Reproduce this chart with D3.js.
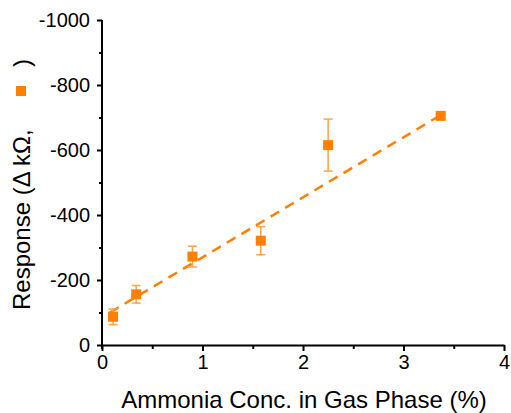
<!DOCTYPE html>
<html>
<head>
<meta charset="utf-8">
<script src="https://cdn.jsdelivr.net/npm/d3@7"></script>
<style>
  body { margin: 0; background: #fff; }
  svg text { font-family: "Liberation Sans", Arial, sans-serif; fill: #000; }
</style>
</head>
<body>
<div id="chart"></div>
<script>
// ammonia concentration (%) vs response (negative, in delta kOhm)
const conc = [0.11, 0.34, 0.90, 1.58, 2.25, 3.37];
const response = [-87, -156, -272, -321, -615, -705];
const respErr = [24, 27, 32, 43, 80, 0];
// dashed linear fit, read at its two ends
const fitX = [0.08, 3.33];
const fitY = [-100, -700];
const xTicks = [0, 1, 2, 3, 4];
const yTicks = [0, -200, -400, -600, -800, -1000];

function renderScatter() {
    const width = 511, height = 413;
    const orange = "#ff7f00";

    const svg = d3.select("#chart").append("svg")
        .attr("width", width)
        .attr("height", height);

    const x = d3.scaleLinear().domain([0, 4]).range([102, 504]);
    const y = d3.scaleLinear().domain([0, -1000]).range([345, 20]);

    // minor ticks first so major ones sit on top
    svg.append("g").attr("transform", "translate(0,345)")
        .call(d3.axisBottom(x).tickValues(d3.range(0.5, 4, 1)).tickSize(4).tickFormat("").tickSizeOuter(0))
        .call(g => g.select(".domain").remove());
    svg.append("g").attr("transform", "translate(102,0)")
        .call(d3.axisLeft(y).tickValues(d3.range(-100, -1000, -200)).tickSize(3).tickFormat("").tickSizeOuter(0))
        .call(g => g.select(".domain").remove());

    const xAxis = svg.append("g").attr("transform", "translate(0,345)")
        .call(d3.axisBottom(x).tickValues(xTicks).tickFormat(d => String(d))
            .tickSize(6).tickSizeOuter(0).tickPadding(4));
    xAxis.selectAll("text").style("font-size", "20px");

    const yAxis = svg.append("g").attr("transform", "translate(102,0)")
        .call(d3.axisLeft(y).tickValues(yTicks).tickFormat(d => String(d))
            .tickSize(5).tickSizeOuter(0).tickPadding(7));
    yAxis.selectAll("text").style("font-size", "20px");

    svg.selectAll(".domain").attr("stroke-width", 2).attr("stroke", "#000");
    svg.selectAll(".tick line").attr("stroke-width", 2).attr("stroke", "#000");
    // y axis line reaches a little below the x axis
    yAxis.select(".domain").attr("d", `M0,${y(-1000)}V${y(0) + 4}`);

    // fit line
    svg.append("line")
        .attr("x1", x(fitX[0])).attr("y1", y(fitY[0]))
        .attr("x2", x(fitX[1])).attr("y2", y(fitY[1]))
        .attr("stroke", orange)
        .attr("stroke-width", 2.5)
        .attr("stroke-dasharray", "10,7");

    const pts = conc.map((c, i) => ({ c, r: response[i], e: respErr[i] }));

    // error bars
    const eb = svg.append("g").attr("stroke", "#ffa24a").attr("stroke-width", 1.5);
    pts.filter(d => d.e > 0).forEach(d => {
        eb.append("line").attr("x1", x(d.c)).attr("x2", x(d.c))
            .attr("y1", y(d.r - d.e)).attr("y2", y(d.r + d.e));
        eb.append("line").attr("x1", x(d.c) - 4.5).attr("x2", x(d.c) + 4.5)
            .attr("y1", y(d.r - d.e)).attr("y2", y(d.r - d.e));
        eb.append("line").attr("x1", x(d.c) - 4.5).attr("x2", x(d.c) + 4.5)
            .attr("y1", y(d.r + d.e)).attr("y2", y(d.r + d.e));
    });

    svg.append("g").selectAll("rect").data(pts).enter().append("rect")
        .attr("x", d => x(d.c) - 5)
        .attr("y", d => y(d.r) - 5)
        .attr("width", 10)
        .attr("height", 10)
        .attr("fill", orange);

    // axis titles
    svg.append("text")
        .attr("x", (x(0) + x(4)) / 2 + 1)
        .attr("y", 408)
        .attr("text-anchor", "middle")
        .style("font-size", "24px")
        .text("Ammonia Conc. in Gas Phase (%)");

    svg.append("text")
        .attr("transform", "translate(30,310) rotate(-90)")
        .style("font-size", "24px")
        .text("Response (\u0394 k\u03a9,");
    svg.append("text")
        .attr("transform", "translate(30,67) rotate(-90)")
        .style("font-size", "24px")
        .text(")");
    // series symbol inside the title
    svg.append("rect")
        .attr("x", 16).attr("y", 86)
        .attr("width", 10).attr("height", 10)
        .attr("fill", orange);
}

renderScatter();
</script>
</body>
</html>
